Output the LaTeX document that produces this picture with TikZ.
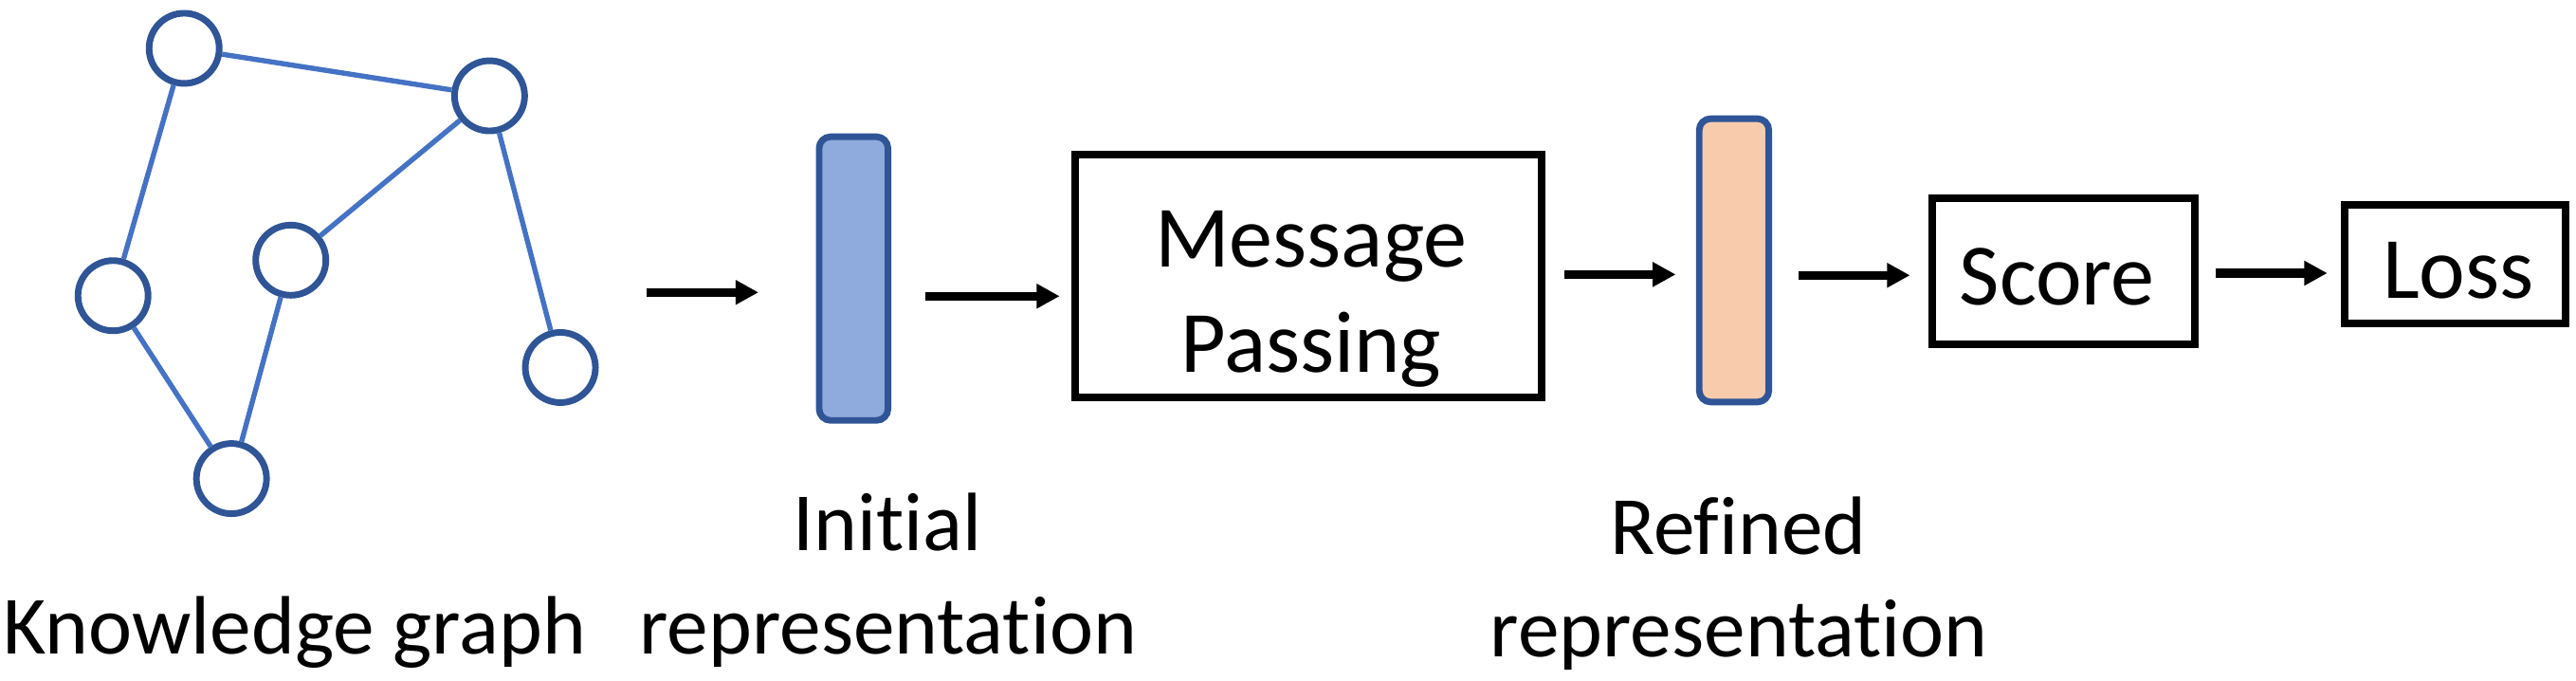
\documentclass[tikz,border=0pt]{standalone}
\usepackage{fontspec}
\setmainfont{Carlito}[Ligatures=CommonOff]
\usetikzlibrary{arrows.meta}
\definecolor{nodeblue}{HTML}{2F5597}
\definecolor{edgeblue}{HTML}{4472C4}
\definecolor{barblue}{HTML}{8FAADC}
\definecolor{barorange}{HTML}{F8CBAD}
\tikzset{
  kgnode/.style={circle, draw=nodeblue, line width=2pt, fill=white, minimum size=21.35pt, inner sep=0pt},
  kgedge/.style={draw=edgeblue, line width=1.55pt},
  bar/.style={rectangle, rounded corners=3.5pt, draw=nodeblue, line width=2pt, inner sep=0pt},
  box/.style={rectangle, draw=black, line width=2.35pt, inner sep=0pt},
  lbl/.style={inner sep=0pt, anchor=base, font=\fontsize{25.2}{31.5}\selectfont},
  boxtxt/.style={inner sep=0pt, anchor=base, font=\fontsize{26.6}{32}\selectfont},
  arr/.style={line width=2.7pt, -{Triangle[length=7pt,width=7.1pt]}}
}
\begin{document}
\begin{tikzpicture}[x=0.5pt, y=-0.5pt]
\useasboundingbox (0,0) rectangle (1568,413.8);
% knowledge graph
\node[kgnode] (A) at (112.1,29.4) {};
\node[kgnode] (B) at (298,58.3) {};
\node[kgnode] (C) at (68.8,179.9) {};
\node[kgnode] (D) at (177,158.3) {};
\node[kgnode] (E) at (341.1,223.6) {};
\node[kgnode] (F) at (140.9,291.2) {};
\draw[kgedge] (A) -- (B);
\draw[kgedge] (A) -- (C);
\draw[kgedge] (B) -- (D);
\draw[kgedge] (B) -- (E);
\draw[kgedge] (C) -- (F);
\draw[kgedge] (D) -- (F);
% bars and boxes
\node[bar, fill=barblue, minimum width=20.95pt, minimum height=86.3pt] (bar1) at (519.55,169.5) {};
\node[bar, fill=barorange, minimum width=21.2pt, minimum height=86.2pt] (bar2) at (1055.5,158.4) {};
\node[box, minimum width=142.15pt, minimum height=73.9pt] (mp) at (796.4,168.1) {};
\node[box, minimum width=79.85pt, minimum height=44.6pt] (score) at (1256.2,165) {};
\node[box, minimum width=67pt, minimum height=36.1pt] (loss) at (1494.4,160.7) {};
% texts
\node[boxtxt] (mp1) at (798,162.5) {Message};
\node[boxtxt] (mp2) at (798,226.6) {Passing};
\node[boxtxt] (sc) at (1252.2,185.5) {Score};
\node[boxtxt] (ls) at (1496.4,181.5) {Loss};
\node[lbl] (kg) at (179.5,398) {Knowledge graph};
\node[lbl] (ini1) at (540.3,335) {Initial};
\node[lbl] (ini2) at (540.6,398) {representation};
\node[lbl] (ref1) at (1058,337.2) {Refined};
\node[lbl] (ref2) at (1058.5,399.8) {representation};
% arrows
\coordinate (a1s) at (393.4,177.9); \coordinate (a1e) at (461.7,177.9);
\coordinate (a2s) at (563.5,180.2); \coordinate (a2e) at (645,180.2);
\coordinate (a3s) at (952,167);     \coordinate (a3e) at (1020,167);
\coordinate (a4s) at (1094.8,167.5);\coordinate (a4e) at (1162.6,167.5);
\coordinate (a5s) at (1348.7,166.2);\coordinate (a5e) at (1416.6,166.2);
\draw[arr] (a1s) -- (a1e);
\draw[arr] (a2s) -- (a2e);
\draw[arr] (a3s) -- (a3e);
\draw[arr] (a4s) -- (a4e);
\draw[arr] (a5s) -- (a5e);
\end{tikzpicture}
\end{document}
